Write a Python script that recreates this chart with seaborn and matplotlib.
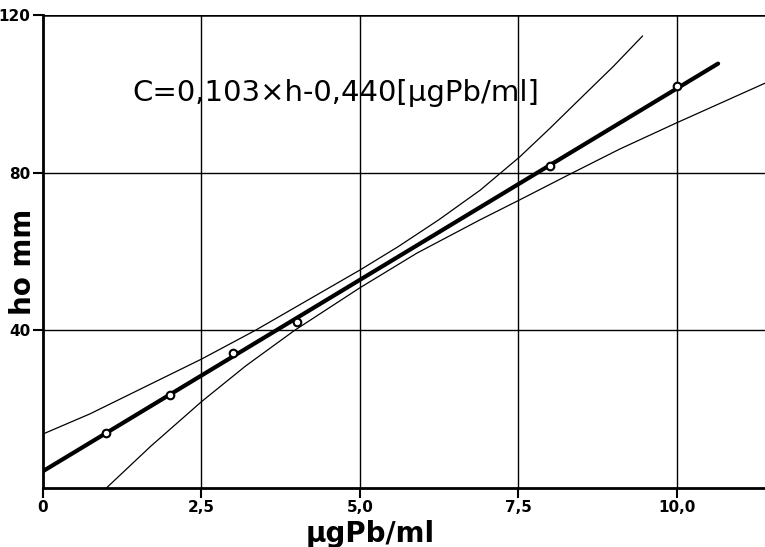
import numpy as np
import pandas as pd
import matplotlib
matplotlib.use('Agg')
import matplotlib.pyplot as plt
import seaborn as sns

# measured calibration points (concentration in ug Pb/ml, peak height h0 in mm)
conc_points = [1.0, 2.0, 3.0, 4.0, 8.0, 10.0]
height_points = [13.9, 23.6, 34.2, 42.1, 81.6, 101.9]

# fitted equation printed on the chart: C = 0.103*h - 0.440
fit_slope = 0.103
fit_offset = 0.440
fit_conc_range = [0.0, 10.65]

# upper and lower confidence limits
upper_conc = [0.0, 0.74, 2.5, 3.35, 5.0, 5.6, 6.24, 6.9, 7.52, 8.0, 8.47, 9.0, 9.46]
upper_height = [13.7, 18.8, 32.7, 40.0, 55.3, 61.2, 68.0, 75.6, 84.0, 91.3, 98.7, 107.0, 114.7]
lower_conc = [1.0, 1.7, 2.5, 3.2, 3.97, 5.0, 5.9, 6.89, 7.52, 8.31, 9.1, 9.99, 11.39]
lower_height = [0.0, 10.6, 21.9, 31.0, 40.0, 50.8, 59.6, 68.0, 73.1, 79.6, 86.0, 92.6, 102.7]

x_ticks = [0, 2.5, 5.0, 7.5, 10.0]
x_tick_labels = ['0', '2,5', '5,0', '7,5', '10,0']
y_ticks = [40, 80, 120]
y_tick_labels = ['40', '80', '120']

equation_text = 'C=0,103×h-0,440[µgPb/ml]'
x_label = 'µgPb/ml'
y_label = 'ho mm'


def build_fit_line():
    conc = np.array(fit_conc_range)
    height = (conc + fit_offset) / fit_slope
    return pd.DataFrame({'conc': conc, 'height': height})


def main(file_name='out.png'):
    sns.set_theme(style='white')
    plt.rcParams['font.family'] = ['DejaVu Sans']

    fig = plt.figure(figsize=(7.65, 5.47), dpi=100)
    ax = fig.add_axes([43 / 765, 59 / 547, 722 / 765, 473 / 547])

    # grid
    for xv in x_ticks[1:]:
        ax.axvline(xv, color='black', lw=1.0, zorder=1)
    for yv in y_ticks:
        ax.axhline(yv, color='black', lw=1.0 if yv < 120 else 1.8, zorder=1)

    lower_df = pd.DataFrame({'conc': lower_conc, 'height': lower_height})
    upper_df = pd.DataFrame({'conc': upper_conc, 'height': upper_height})
    sns.lineplot(data=upper_df, x='conc', y='height', color='black', lw=0.9,
                 sort=False, ax=ax, zorder=2)
    sns.lineplot(data=lower_df, x='conc', y='height', color='black', lw=0.9,
                 sort=False, ax=ax, zorder=2)

    fit_df = build_fit_line()
    sns.lineplot(data=fit_df, x='conc', y='height', color='black', lw=3.0,
                 solid_capstyle='round', ax=ax, zorder=3)

    pts = pd.DataFrame({'conc': conc_points, 'height': height_points})
    sns.scatterplot(data=pts, x='conc', y='height', marker='o', s=30,
                    facecolor='white', edgecolor='black', linewidth=1.5,
                    ax=ax, zorder=4)

    ax.text(4.62, 100.3, equation_text, fontsize=21, ha='center', va='center',
            color='black')

    ax.set_xlim(0, 11.39)
    ax.set_ylim(0, 120)
    ax.set_xticks(x_ticks)
    ax.set_xticklabels(x_tick_labels, fontsize=11, fontweight='bold')
    ax.set_yticks(y_ticks)
    ax.set_yticklabels(y_tick_labels, fontsize=11, fontweight='bold')
    ax.tick_params(axis='both', direction='out', length=7, width=1.5,
                   colors='black', pad=2, bottom=True, left=True)

    for side in ['left', 'bottom']:
        ax.spines[side].set_color('black')
        ax.spines[side].set_linewidth(2.0)
    ax.spines['top'].set_visible(False)
    ax.spines['right'].set_visible(False)

    ax.set_xlabel(x_label, fontsize=20, fontweight='bold', color='black')
    ax.set_ylabel(y_label, fontsize=20, fontweight='bold', color='black')
    ax.xaxis.set_label_coords(0.453, -0.067)
    ax.yaxis.set_label_coords(-0.008, 0.478)

    fig.savefig(file_name, dpi=100, facecolor='white')
    plt.close(fig)


if __name__ == '__main__':
    main()
